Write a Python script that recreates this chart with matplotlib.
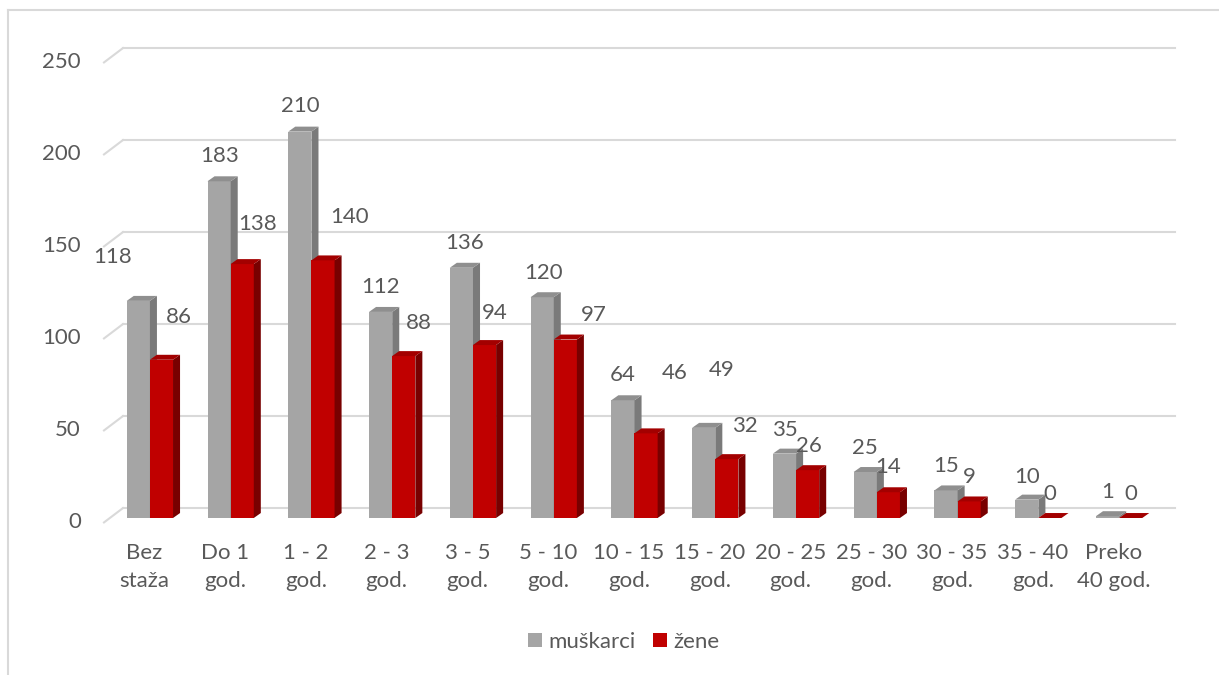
import matplotlib
matplotlib.use("Agg")
import matplotlib.pyplot as plt
from matplotlib.patches import Polygon, Patch
from matplotlib.lines import Line2D
import numpy as np

# Podaci
categories = ["Bez\nstaža", "Do 1\ngod.", "1 - 2\ngod.", "2 - 3\ngod.", "3 - 5\ngod.",
              "5 - 10\ngod.", "10 - 15\ngod.", "15 - 20\ngod.", "20 - 25\ngod.",
              "25 - 30\ngod.", "30 - 35\ngod.", "35 - 40\ngod.", "Preko\n40 god."]
muskarci = [118, 183, 210, 112, 136, 120, 64, 49, 35, 25, 15, 10, 1]
zene = [86, 138, 140, 88, 94, 97, 46, 32, 26, 14, 9, 0, 0]
y_ticks = [0, 50, 100, 150, 200, 250]
series_names = ["muškarci", "žene"]

# Stil
FONT = ["Lato", "DejaVu Sans"]
FS = 16
TXT = "#595959"
GRID = "#D9D9D9"
GRAY = ("#A5A5A5", "#7A7A7A", "#8F8F8F")   # front, side, top
RED = ("#C00000", "#780000", "#A30000")
BAR_W = 0.287
OFF_M, OFF_Z = -0.075, 0.211
DEPTH_X, DEPTH_Y = 0.087, 2.7      # dubina stupca (kat. jedinice, vrijednost)
WALL_X, WALL_Y = 0.235, 5.4        # pomak straznjeg zida
FLOOR_Y = -2.4

# pomaci oznaka u pikselima (dx, dy prema gore)
m_lab_off = [(-26, 44), (0, 25), (0, 26), (0, 25), (3, 25), (1, 24), (0, 25),
             (18, 58), (0, 24), (0, 24), (0, 24), (0, 23), (0, 24)]
z_lab_off = [(17, 43), (15, 40), (27, 43), (15, 33), (10, 32), (29, 25), (29, 60),
             (18, 33), (1, 24), (0, 25), (0, 24), (0, 24), (0, 24)]

W, H = 1219, 675
fig = plt.figure(figsize=(W / 100, H / 100), dpi=100)
ax = fig.add_axes([104 / W, 157 / H, 1050 / W, 460 / H])
ax.set_xlim(-0.5, len(categories) - 0.5)
ax.set_ylim(0, 250)
ax.axis("off")

x = np.arange(len(categories))
x_right = (1175 - 104) / 1050 * len(categories) - 0.5

# mreza na straznjem zidu + dijagonale
for v in y_ticks:
    ax.plot([-0.5, -0.5 + WALL_X], [v + FLOOR_Y, v + WALL_Y], color=GRID, lw=1.5,
            clip_on=False, zorder=1)
    ax.plot([-0.5 + WALL_X, x_right], [v + WALL_Y, v + WALL_Y], color=GRID, lw=1.5,
            clip_on=False, zorder=1)
    ax.annotate(str(v), (-0.5, v + FLOOR_Y), xytext=(-23, 0), textcoords="offset pixels",
                ha="right", va="center", fontsize=FS, color=TXT, family=FONT,
                annotation_clip=False)


def bar3d(xs, vals, colors, zo):
    front, side, top = colors
    ax.bar(xs, vals, BAR_W, color=front, zorder=zo, clip_on=False)
    for xc, v in zip(xs, vals):
        r = xc + BAR_W / 2
        l = xc - BAR_W / 2
        ax.add_patch(Polygon([(r, 0), (r + DEPTH_X, DEPTH_Y), (r + DEPTH_X, v + DEPTH_Y), (r, v)],
                             closed=True, facecolor=side, edgecolor="none", zorder=zo,
                             clip_on=False))
        ax.add_patch(Polygon([(l, v), (l + DEPTH_X, v + DEPTH_Y), (r + DEPTH_X, v + DEPTH_Y), (r, v)],
                             closed=True, facecolor=top, edgecolor="none", zorder=zo,
                             clip_on=False))


bar3d(x + OFF_M, muskarci, GRAY, 3)
bar3d(x + OFF_Z, zene, RED, 4)

# oznake vrijednosti
for xs, vals, offs in ((x + OFF_M, muskarci, m_lab_off), (x + OFF_Z, zene, z_lab_off)):
    for xc, v, (dx, dy) in zip(xs, vals, offs):
        ax.annotate(str(v), (xc, v), xytext=(dx, dy), textcoords="offset pixels",
                    ha="center", va="center", fontsize=FS, color=TXT, family=FONT,
                    annotation_clip=False, zorder=6)

# kategorije
for xc, lab in zip(x, categories):
    ax.annotate(lab, (xc, 0), xytext=(0, -25), textcoords="offset pixels",
                ha="center", va="top", fontsize=FS, color=TXT, family=FONT,
                linespacing=1.5, annotation_clip=False)

handles = [Patch(facecolor=GRAY[0]), Patch(facecolor=RED[0])]
fig.legend(handles, series_names, loc="center", bbox_to_anchor=(624 / W, 1 - 642 / H),
           ncol=2, frameon=False, handlelength=0.6, handleheight=0.6, handletextpad=0.3,
           columnspacing=0.8, prop={"family": FONT, "size": FS}, labelcolor=TXT)

# okvir grafikona
fig.add_artist(Line2D([8 / W, 8 / W], [0, 1 - 10 / H], color=GRID, lw=1.5))
fig.add_artist(Line2D([8 / W, 1], [1 - 10 / H, 1 - 10 / H], color=GRID, lw=1.5))

fig.savefig("out.png", dpi=100)
